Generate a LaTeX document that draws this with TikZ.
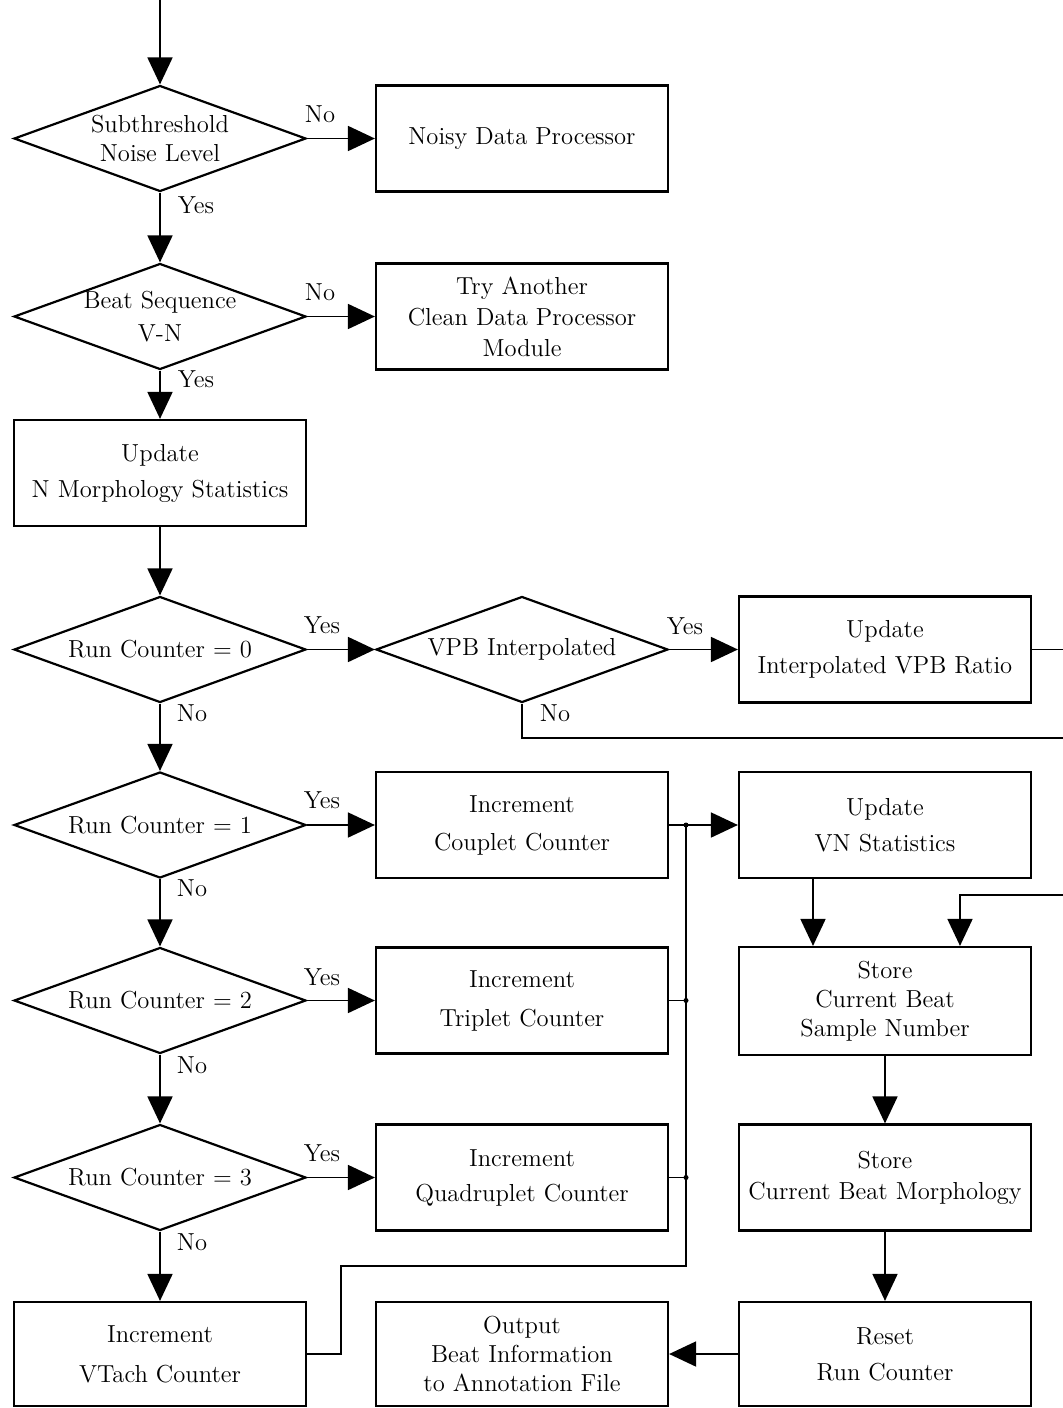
\documentclass[tikz,border=0pt]{standalone}
\usetikzlibrary{arrows.meta,shapes.geometric}
\newcommand{\figfont}{\fontsize{12.3}{14.5}\selectfont}
\begin{document}
\begin{tikzpicture}[x=0.5pt,y=-0.5pt,
  box/.style={draw, line width=1.1pt, minimum width=146pt, minimum height=53pt, inner sep=0pt, align=center, font=\figfont},
  dia/.style={draw, diamond, line width=1.1pt, minimum width=146pt, minimum height=53pt, inner sep=0pt},
  dtext/.style={align=center, font=\figfont, inner sep=0pt},
  lab/.style={font=\figfont, inner sep=0pt},
  conn/.style={line width=0.9pt},
  arr/.style={conn, -{Triangle[length=13.5pt,width=12.5pt]}},
  jdot/.style={circle, fill, inner sep=0pt, minimum size=2.5pt}]
\useasboundingbox (0,0) rectangle (1063,1408);

\node[dia] (d1) at (160,138.5) {};
\node[dtext] (d1t) at (d1) {Subthreshold\\Noise Level};
\node[box] (b1) at (522,138.5) {Noisy Data Processor};

\node[dia] (d2) at (160,316.5) {};
\node[dtext] (d2t) at (d2) {Beat Sequence\\[2pt]V-N};
\node[box] (b2) at (522,316.5) {Try Another\\[1pt]Clean Data Processor\\[1pt]Module};

\node[box] (b3) at (160,473) {Update\\[3.5pt]N Morphology Statistics};

\node[dia] (d3) at (160,649.5) {};
\node[dtext] (d3t) at (d3) {Run Counter = 0};
\node[dia] (d4) at (522,649.5) {};
\node[dtext] (d4t) at (d4) {VPB Interpolated};
\node[box] (b4) at (885,649.5) {Update\\[3.5pt]Interpolated VPB Ratio};

\node[dia] (d5) at (160,825) {};
\node[dtext] (d5t) at (d5) {Run Counter = 1};
\node[box] (b5) at (522,825) {Increment\\[4.5pt]Couplet Counter};
\node[box] (vn) at (885,825) {Update\\[3.5pt]VN Statistics};

\node[dia] (d6) at (160,1000.5) {};
\node[dtext] (d6t) at (d6) {Run Counter = 2};
\node[box] (b6) at (522,1000.5) {Increment\\[5pt]Triplet Counter};
\node[box, minimum height=54pt] (sn) at (885,1001) {Store\\Current Beat\\Sample Number};

\node[dia] (d7) at (160,1177.5) {};
\node[dtext] (d7t) at (d7) {Run Counter = 3};
\node[box] (b7) at (522,1177.5) {Increment\\[3pt]Quadruplet Counter};
\node[box] (sm) at (885,1177.5) {Store\\[1pt]Current Beat Morphology};

\node[box, minimum height=52pt] (vt) at (160,1354) {Increment\\[5.5pt]VTach Counter};
\node[box, minimum height=52pt] (out) at (522,1354) {Output\\Beat Information\\to Annotation File};
\node[box, minimum height=52pt] (rs) at (885,1354) {Reset\\[3.5pt]Run Counter};

\node[lab] (l1) at (320,114) {No};
\node[lab] (l2) at (196,205) {Yes};
\node[lab] (l3) at (320,292) {No};
\node[lab] (l4) at (196,379) {Yes};
\node[lab] (l5) at (322,625) {Yes};
\node[lab] (l6) at (685,626) {Yes};
\node[lab] (l7) at (555,713) {No};
\node[lab] (l8) at (192,713) {No};
\node[lab] (l9) at (322,800) {Yes};
\node[lab] (l10) at (192,888) {No};
\node[lab] (l11) at (322,977) {Yes};
\node[lab] (l12) at (192,1065) {No};
\node[lab] (l13) at (322,1153) {Yes};
\node[lab] (l14) at (192,1242) {No};

\coordinate (top) at (160,0);
\coordinate (e1) at (1063,649.5);
\coordinate (e2) at (1063,738);
\coordinate (e3) at (1063,895);
\coordinate (j1) at (686,825);
\coordinate (j2) at (686,1000.5);
\coordinate (j3) at (686,1177.5);
\coordinate (k2) at (341,1266);

\draw[arr] (top) -- (d1.north);
\draw[arr] (d1.east) -- (b1.west);
\draw[arr] (d1.south) -- (d2.north);
\draw[arr] (d2.east) -- (b2.west);
\draw[arr] (d2.south) -- (b3.north);
\draw[arr] (b3.south) -- (d3.north);
\draw[arr] (d3.east) -- (d4.west);
\draw[arr] (d4.east) -- (b4.west);
\draw[conn] (b4.east) -- (e1);
\draw[conn] (d4.south) |- (e2);
\draw[arr] (d3.south) -- (d5.north);
\draw[arr] (d5.east) -- (b5.west);
\draw[arr] (b5.east) -- (vn.west);
\draw[arr] (d5.south) -- (d6.north);
\draw[arr] (d6.east) -- (b6.west);
\draw[conn] (b6.east) -- (j2);
\draw[arr] (d6.south) -- (d7.north);
\draw[arr] (d7.east) -- (b7.west);
\draw[conn] (b7.east) -- (j3);
\draw[arr] (d7.south) -- (vt.north);
\draw[conn] (vt.east) -| (k2) -| (j1);
\node[jdot] (jd1) at (j1) {};
\node[jdot] (jd2) at (j2) {};
\node[jdot] (jd3) at (j3) {};
\draw[arr] ([xshift=-36pt]vn.south) -- ([xshift=-36pt]sn.north);
\draw[arr] (e3) -| ([xshift=37.5pt]sn.north);
\draw[arr] (sn.south) -- (sm.north);
\draw[arr] (sm.south) -- (rs.north);
\draw[arr] (rs.west) -- (out.east);
\end{tikzpicture}
\end{document}
